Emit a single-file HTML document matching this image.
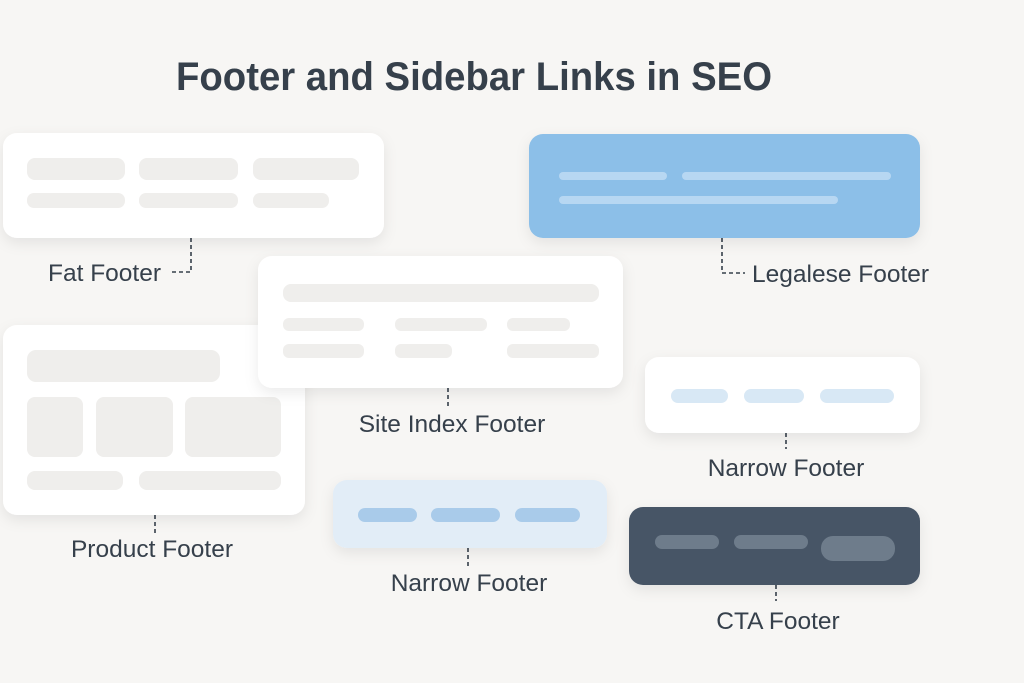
<!DOCTYPE html>
<html><head><meta charset="utf-8"><style>
html,body{margin:0;padding:0;background:#f7f6f4;}
svg{display:block}
text{font-family:"Liberation Sans",sans-serif;fill:#36404b}
</style></head><body>
<svg width="1024" height="683" viewBox="0 0 1024 683" xmlns="http://www.w3.org/2000/svg">
<defs>
<filter id="sh" x="-20%" y="-20%" width="140%" height="150%">
<feDropShadow dx="0" dy="5" stdDeviation="7" flood-color="#000" flood-opacity="0.08"/>
</filter>
</defs>
<rect width="1024" height="683" fill="#f7f6f4"/>
<text x="176" y="90" font-size="40" font-weight="bold" textLength="596" lengthAdjust="spacingAndGlyphs">Footer and Sidebar Links in SEO</text>

<g stroke="#36404b" stroke-width="1.6" stroke-dasharray="4,3" fill="none">
<path d="M191 238 V272 H171"/>
<path d="M722 238 V273 H745"/>
<path d="M448 388 V406"/>
<path d="M155 515 V535"/>
<path d="M468 548 V566"/>
<path d="M786 433 V449"/>
<path d="M776 585 V601"/>
</g>

<rect x="3" y="133" width="381" height="105" rx="14" fill="#fff" filter="url(#sh)"/>
<g fill="#efeeec">
<rect x="27" y="158" width="98" height="22" rx="8"/><rect x="139" y="158" width="99" height="22" rx="8"/><rect x="253" y="158" width="106" height="22" rx="8"/>
<rect x="27" y="193" width="98" height="15" rx="7"/><rect x="139" y="193" width="99" height="15" rx="7"/><rect x="253" y="193" width="76" height="15" rx="7"/>
</g>
<text x="48" y="281" font-size="24.5">Fat Footer</text>

<rect x="529" y="134" width="391" height="104" rx="14" fill="#8cbfe8" filter="url(#sh)"/>
<g fill="#b7d7f2">
<rect x="559" y="172" width="108" height="8" rx="4"/><rect x="682" y="172" width="209" height="8" rx="4"/>
<rect x="559" y="196" width="279" height="8" rx="4"/>
</g>
<text x="752" y="282" font-size="24.5">Legalese Footer</text>

<rect x="3" y="325" width="302" height="190" rx="14" fill="#fff" filter="url(#sh)"/>
<g fill="#efeeec">
<rect x="27" y="350" width="193" height="32" rx="9"/>
<rect x="27" y="397" width="56" height="60" rx="8"/><rect x="96" y="397" width="77" height="60" rx="8"/><rect x="185" y="397" width="96" height="60" rx="8"/>
<rect x="27" y="471" width="96" height="19" rx="8"/><rect x="139" y="471" width="142" height="19" rx="8"/>
</g>
<text x="152" y="557" font-size="24.5" text-anchor="middle">Product Footer</text>

<rect x="258" y="256" width="365" height="132" rx="14" fill="#fff" filter="url(#sh)"/>
<g fill="#efeeec">
<rect x="283" y="284" width="316" height="18" rx="8"/>
<rect x="283" y="318" width="81" height="13" rx="6"/><rect x="395" y="318" width="92" height="13" rx="6"/><rect x="507" y="318" width="63" height="13" rx="6"/>
<rect x="283" y="344" width="81" height="14" rx="6"/><rect x="395" y="344" width="57" height="14" rx="6"/><rect x="507" y="344" width="92" height="14" rx="6"/>
</g>
<text x="452" y="432" font-size="24.5" text-anchor="middle">Site Index Footer</text>

<rect x="333" y="480" width="274" height="68" rx="14" fill="#e2edf7" filter="url(#sh)"/>
<g fill="#a9cbea">
<rect x="358" y="508" width="59" height="14" rx="7"/><rect x="431" y="508" width="69" height="14" rx="7"/><rect x="515" y="508" width="65" height="14" rx="7"/>
</g>
<text x="469" y="591" font-size="24.5" text-anchor="middle">Narrow Footer</text>

<rect x="645" y="357" width="275" height="76" rx="14" fill="#fff" filter="url(#sh)"/>
<g fill="#d8e8f5">
<rect x="671" y="389" width="57" height="14" rx="7"/><rect x="744" y="389" width="60" height="14" rx="7"/><rect x="820" y="389" width="74" height="14" rx="7"/>
</g>
<text x="786" y="476" font-size="24.5" text-anchor="middle">Narrow Footer</text>

<rect x="629" y="507" width="291" height="78" rx="14" fill="#475566" filter="url(#sh)"/>
<g fill="#6e7c8b">
<rect x="655" y="535" width="64" height="14" rx="7"/><rect x="734" y="535" width="74" height="14" rx="7"/><rect x="821" y="536" width="74" height="25" rx="12"/>
</g>
<text x="778" y="629" font-size="24.5" text-anchor="middle">CTA Footer</text>
</svg>
</body></html>
